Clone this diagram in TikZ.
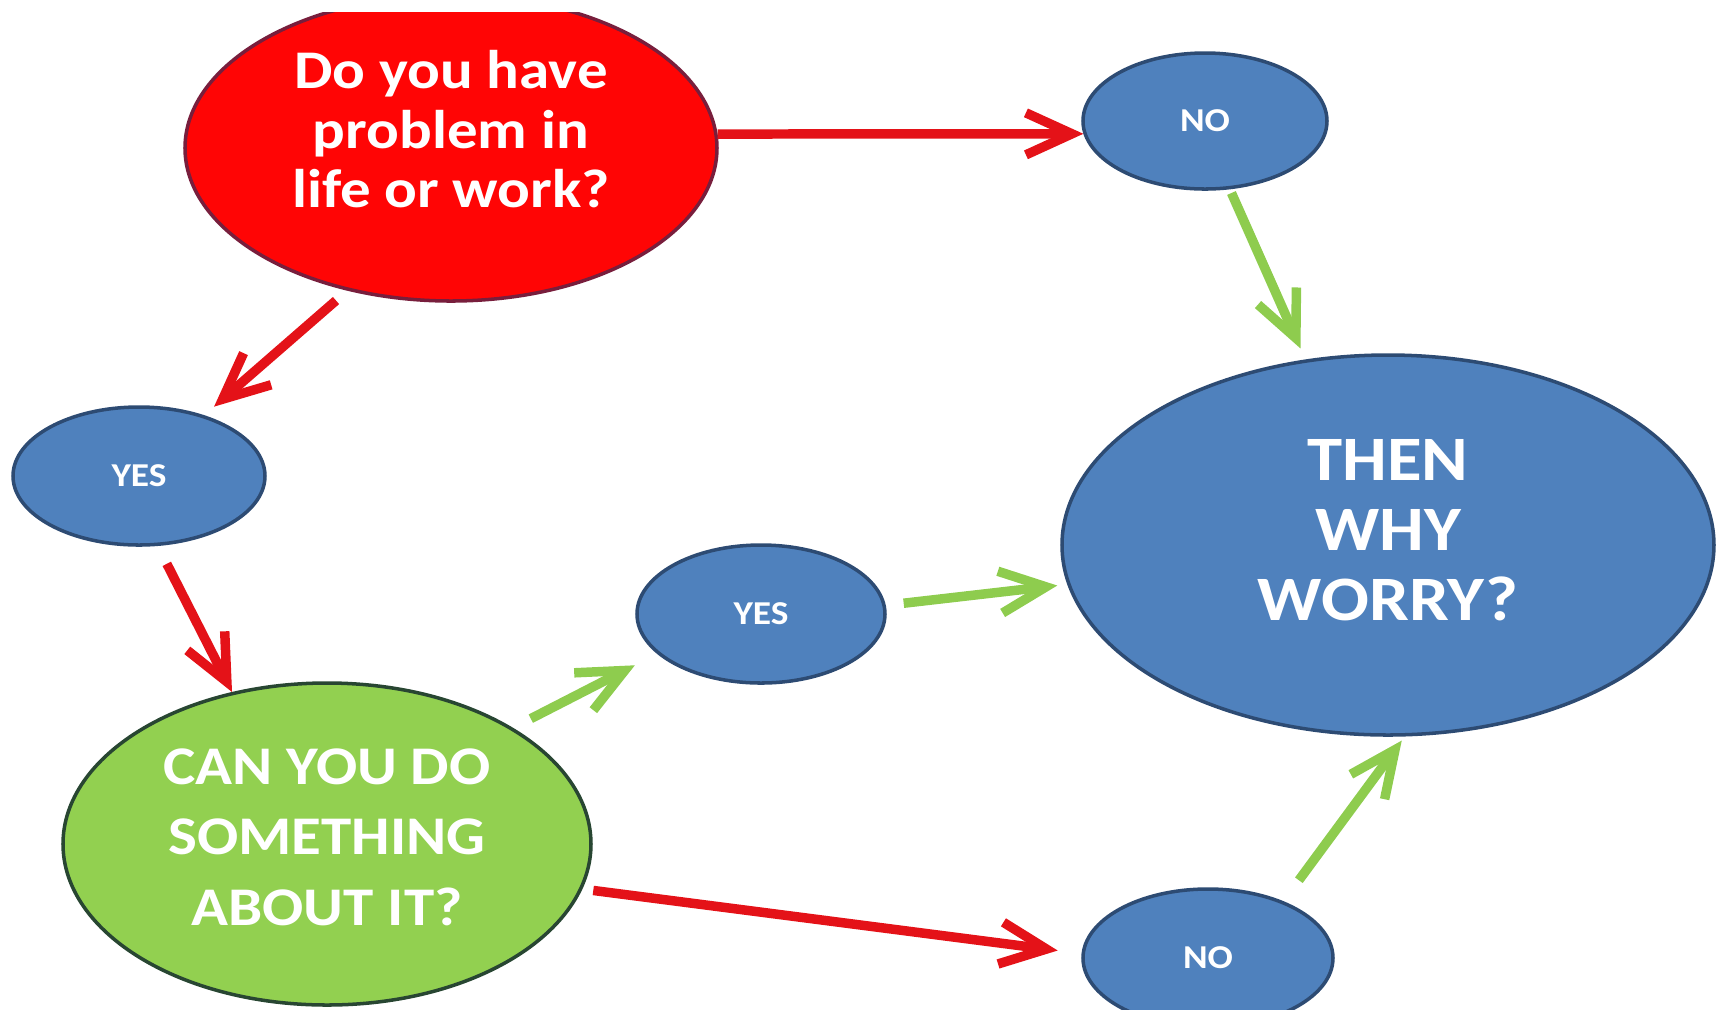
\documentclass[tikz,border=0pt]{standalone}
\usepackage{fontspec}
\setmainfont{Carlito}[FakeStretch=1.12]
\usetikzlibrary{shapes.geometric,arrows.meta}

\definecolor{qred}{RGB}{255,5,5}
\definecolor{qredline}{RGB}{120,30,60}
\definecolor{ansblue}{RGB}{79,129,189}
\definecolor{ansblueline}{RGB}{45,75,115}
\definecolor{qgreen}{RGB}{146,208,80}
\definecolor{qgreenline}{RGB}{40,70,50}
\definecolor{arrred}{RGB}{228,18,24}
\definecolor{arrgreen}{RGB}{142,204,78}

\begin{document}
\begin{tikzpicture}[>={Straight Barb[length=4.6mm,width=4.2mm]},
  ans node/.style={ellipse,draw=ansblueline,fill=ansblue,line width=1pt,inner sep=0pt,text=white,font=\fontsize{9.5}{11}\selectfont\bfseries},
  red arrow/.style={->,line width=2.7pt,draw=arrred},
  green arrow/.style={->,line width=2.7pt,draw=arrgreen}]

            \useasboundingbox (0,0) rectangle (17.16,-10.09);
            \clip (0,-0.12) rectangle (17.16,-10.09);

            \node[ellipse, draw=qredline, fill=qred, line width=1pt, minimum width=5.32cm, minimum height=3.06cm, inner sep=0pt, text=white, align=center, text depth=0.38cm, font=\fontsize{15.5}{17}\selectfont\bfseries] (q1) at (4.51,-1.48) {Do you have\\problem in\\life or work?};
            \node[ans node, minimum width=2.44cm, minimum height=1.36cm] (no1) at (12.05,-1.21) {NO};
            \node[ans node, minimum width=2.52cm, minimum height=1.38cm] (yes1) at (1.39,-4.76) {YES};
            \node[ellipse, draw=qgreenline, fill=qgreen, line width=1pt, minimum width=5.28cm, minimum height=3.22cm, inner sep=0pt, text=white, align=center, text depth=0.14cm, font=\fontsize{15.5}{20}\selectfont\bfseries] (q2) at (3.27,-8.44) {CAN YOU DO\\SOMETHING\\ABOUT IT?};
            \node[ans node, minimum width=2.48cm, minimum height=1.38cm] (yes2) at (7.61,-6.14) {YES};
            \node[ans node, minimum width=6.52cm, minimum height=3.80cm, align=center, text depth=0.3cm, font=\fontsize{18}{20}\selectfont\bfseries] (worry) at (13.88,-5.45) {THEN\\WHY\\WORRY?};
            \node[ans node, minimum width=2.50cm, minimum height=1.38cm] (no2) at (12.08,-9.58) {NO};

            \draw[red arrow] (q1.3) to (no1.186);
            \draw[red arrow, shorten <=1.5mm, shorten >=1.3mm] (q1.234) to (yes1.43);
            \draw[red arrow, shorten <=2mm] (yes1.285) to (q2.122);
            \draw[green arrow, shorten <=2mm, shorten >=2.5mm] (q2.32) to (yes2.201);
            \draw[green arrow, shorten <=1.8mm, shorten >=1mm] (yes2.4) to (worry.187);
            \draw[red arrow, shorten <=1.1mm, shorten >=2.4mm] (q2.350) to (no2.178);
            \draw[green arrow, shorten <=0.4mm, shorten >=1.2mm] (no1.290) to (worry.114);
            \draw[green arrow, shorten <=2.6mm, shorten >=0.5mm] (no2.37) to (worry.275);

            ;
        \end{tikzpicture}
\end{document}
